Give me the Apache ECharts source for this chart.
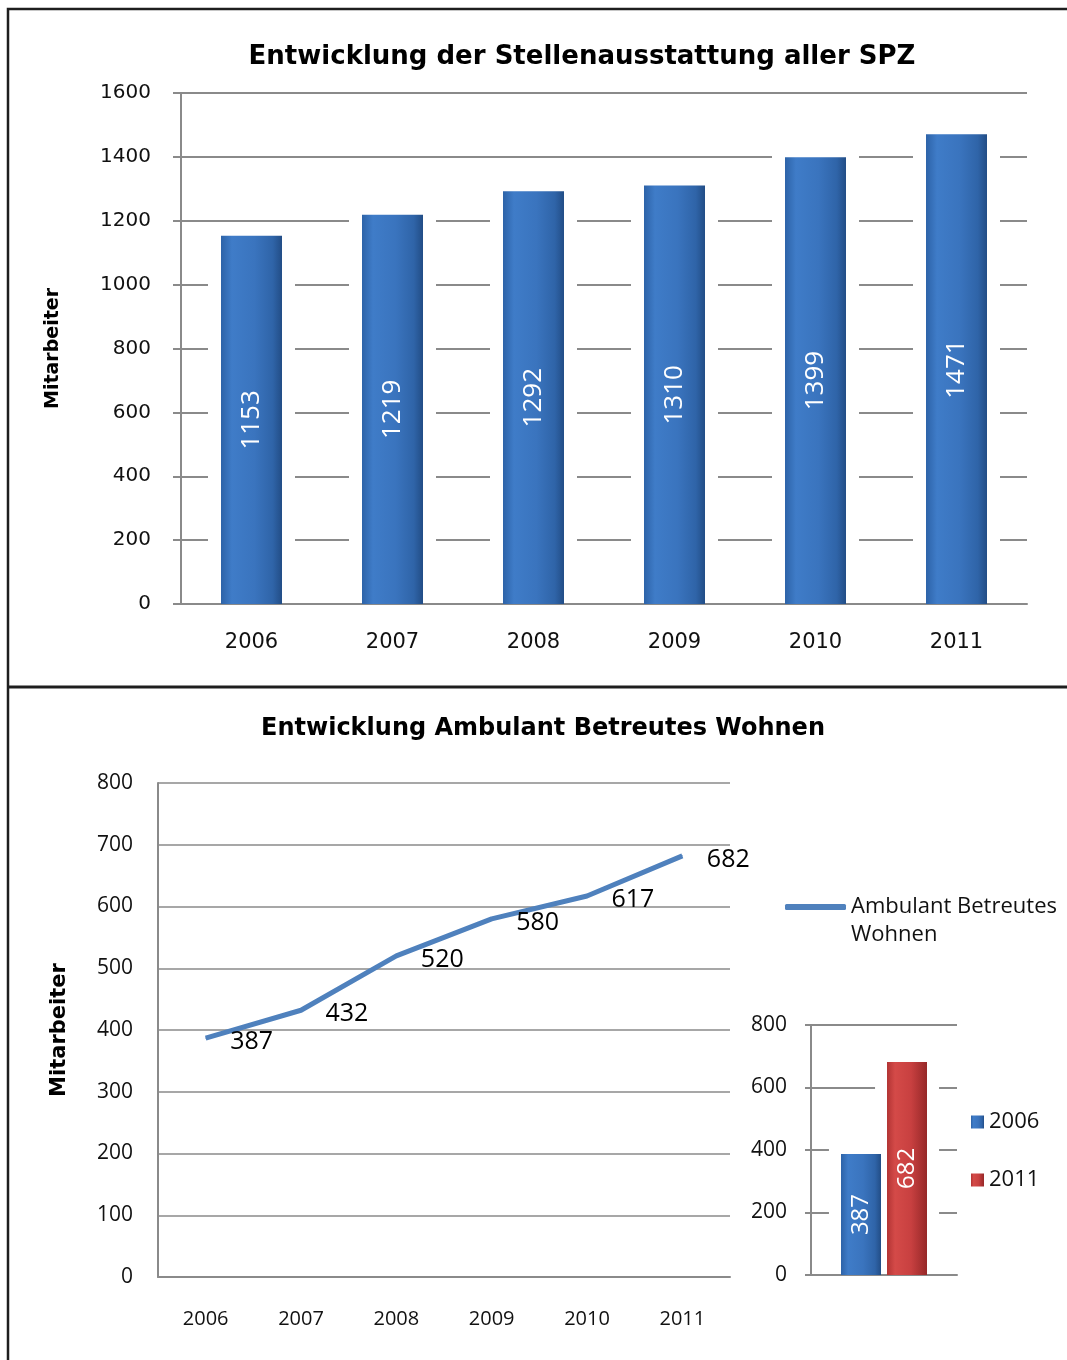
<!DOCTYPE html>
<html>
<head>
<meta charset="utf-8">
<script src="https://cdn.jsdelivr.net/npm/echarts@6/dist/echarts.min.js"></script>
<style>
  html, body { margin: 0; padding: 0; background: #fff; }
  #chart { width: 1067px; height: 1360px; }
</style>
</head>
<body>
<div id="chart"></div>
<script>
// Stellenausstattung aller SPZ
const staffYears = ['2006', '2007', '2008', '2009', '2010', '2011']
const staffValues = [1153, 1219, 1292, 1310, 1399, 1471]
// Ambulant Betreutes Wohnen
const abwYears = ['2006', '2007', '2008', '2009', '2010', '2011']
const abwValues = [387, 432, 520, 580, 617, 682]
// Vergleich 2006 / 2011
const compareYears = ['2006', '2011']
const compareValues = [387, 682]

const gridGray = '#8a8a8a'
const serif = 'DejaVu Sans'
const sans = 'Open Sans'

function blueFill () {
  return new echarts.graphic.LinearGradient(0, 0, 1, 0, [
    { offset: 0, color: '#2d63a8' },
    { offset: 0.18, color: '#3f7cc8' },
    { offset: 0.55, color: '#3a74be' },
    { offset: 0.85, color: '#2f64a8' },
    { offset: 1, color: '#224d86' }
  ])
}
function redFill () {
  return new echarts.graphic.LinearGradient(0, 0, 1, 0, [
    { offset: 0, color: '#b23434' },
    { offset: 0.2, color: '#d44a48' },
    { offset: 0.6, color: '#c84040' },
    { offset: 1, color: '#962828' }
  ])
}
// weisse Flaeche hinter den Balken, unterbricht die Gitterlinien
const gapStyle = { color: '#fff' }
const plain = (v) => String(v)

let myChart = echarts.init(document.getElementById('chart'), null, { renderer: 'canvas' })

let options = {
  animation: false,
  backgroundColor: '#fff',
  title: [
    {
      text: 'Entwicklung der Stellenausstattung aller SPZ',
      left: 582,
      textAlign: 'center',
      top: 44,
      padding: 0,
      textStyle: { fontFamily: serif, fontWeight: 'bold', fontSize: 26, color: '#000' }
    },
    {
      text: 'Entwicklung Ambulant Betreutes Wohnen',
      left: 543,
      textAlign: 'center',
      top: 717,
      padding: 0,
      textStyle: { fontFamily: serif, fontWeight: 'bold', fontSize: 24, color: '#000' }
    }
  ],
  legend: [
    {
      data: ['Ambulant Betreutes Wohnen'],
      left: 785,
      top: 865,
      padding: 0,
      icon: 'roundRect',
      itemWidth: 61,
      itemHeight: 6,
      formatter: '\nAmbulant Betreutes\nWohnen',
      textStyle: { fontFamily: sans, fontSize: 22, lineHeight: 28, color: '#111' }
    },
    {
      data: compareYears,
      left: 971,
      top: 1110,
      orient: 'vertical',
      padding: 0,
      icon: 'rect',
      itemWidth: 13,
      itemHeight: 13,
      itemGap: 34,
      textStyle: { fontFamily: sans, fontSize: 22, lineHeight: 24, color: '#111' }
    }
  ],
  grid: [
    { left: 181, top: 93, width: 846, height: 511 },
    { left: 158, top: 783, width: 572, height: 494 },
    { left: 811, top: 1025, width: 146, height: 250 }
  ],
  xAxis: [
    {
      type: 'category', gridIndex: 0, data: staffYears, z: 2,
      axisLine: { lineStyle: { color: gridGray, width: 2 } },
      axisTick: { show: false },
      axisLabel: { fontFamily: serif, fontSize: 21, color: '#111', margin: 28 }
    },
    { type: 'category', gridIndex: 0, data: staffYears, show: false },
    {
      type: 'category', gridIndex: 1, data: abwYears, z: 2,
      axisLine: { lineStyle: { color: gridGray, width: 2 } },
      axisTick: { show: false },
      axisLabel: { fontFamily: sans, fontSize: 20, color: '#111', margin: 32 }
    },
    {
      type: 'category', gridIndex: 2, data: [''], z: 2,
      axisLine: { lineStyle: { color: gridGray, width: 2 } },
      axisTick: { show: false },
      axisLabel: { show: false }
    },
    { type: 'category', gridIndex: 2, data: [''], show: false }
  ],
  yAxis: [
    {
      type: 'value', gridIndex: 0, min: 0, max: 1600, interval: 200,
      name: 'Mitarbeiter', nameLocation: 'middle', nameGap: 118,
      nameTextStyle: { fontFamily: serif, fontWeight: 'bold', fontSize: 19, color: '#000' },
      axisLine: { show: true, lineStyle: { color: gridGray, width: 2 } },
      axisTick: { show: true, length: 8, lineStyle: { color: gridGray, width: 2 } },
      axisLabel: { fontFamily: serif, fontSize: 20, color: '#111', margin: 30, formatter: plain },
      splitLine: { lineStyle: { color: gridGray, width: 2 } }
    },
    {
      type: 'value', gridIndex: 1, min: 0, max: 800, interval: 100,
      name: 'Mitarbeiter', nameLocation: 'middle', nameGap: 88,
      nameTextStyle: { fontFamily: serif, fontWeight: 'bold', fontSize: 21, color: '#000' },
      axisLine: { show: true, lineStyle: { color: gridGray, width: 2 } },
      axisTick: { show: false },
      axisLabel: { fontFamily: sans, fontSize: 21, color: '#111', margin: 25, formatter: plain },
      splitLine: { lineStyle: { color: gridGray, width: 1.5 } }
    },
    {
      type: 'value', gridIndex: 2, min: 0, max: 800, interval: 200,
      axisLine: { show: true, lineStyle: { color: gridGray, width: 2 } },
      axisTick: { show: true, length: 6, lineStyle: { color: gridGray, width: 2 } },
      axisLabel: { fontFamily: sans, fontSize: 21, color: '#111', margin: 24, formatter: plain },
      splitLine: { lineStyle: { color: gridGray, width: 2 } }
    },
    // versteckte Achsen: etwas gestauchte Skala, damit die weisse Flaeche ueber den Balken hinausragt
    { type: 'value', gridIndex: 0, min: 0, max: 1560, show: false, splitLine: { show: false } },
    { type: 'value', gridIndex: 2, min: 0, max: 760, show: false, splitLine: { show: false } }
  ],
  series: [
    {
      type: 'bar', xAxisIndex: 1, yAxisIndex: 3, data: staffValues,
      barWidth: 87, z: 1, silent: true, itemStyle: gapStyle
    },
    {
      type: 'bar', name: 'Stellen', xAxisIndex: 0, yAxisIndex: 0, data: staffValues,
      barWidth: 61, z: 3,
      itemStyle: { color: blueFill() },
      label: {
        show: true, position: 'inside', rotate: 90,
        fontFamily: sans, fontSize: 26, color: '#fff'
      }
    },
    {
      type: 'line', name: 'Ambulant Betreutes Wohnen', xAxisIndex: 2, yAxisIndex: 1,
      data: abwValues, symbol: 'circle', symbolSize: 1, showSymbol: true, color: '#4f81bd',
      itemStyle: { color: '#4f81bd' },
      lineStyle: { width: 5, color: '#4f81bd' },
      label: {
        show: true, position: 'right', distance: 24, offset: [0, 4],
        fontFamily: sans, fontSize: 25, color: '#000'
      }
    },
    {
      type: 'bar', xAxisIndex: 4, yAxisIndex: 4, data: [compareValues[0]],
      barWidth: 64, barGap: '-28%', z: 1, silent: true, itemStyle: gapStyle
    },
    {
      type: 'bar', xAxisIndex: 4, yAxisIndex: 4, data: [compareValues[1]],
      barWidth: 64, barGap: '-28%', z: 1, silent: true, itemStyle: gapStyle
    },
    {
      type: 'bar', name: compareYears[0], xAxisIndex: 3, yAxisIndex: 2, data: [compareValues[0]],
      barWidth: 40, barGap: '15%', z: 3,
      itemStyle: { color: blueFill() },
      label: { show: true, position: 'inside', rotate: 90, fontFamily: sans, fontSize: 24, color: '#fff' }
    },
    {
      type: 'bar', name: compareYears[1], xAxisIndex: 3, yAxisIndex: 2, data: [compareValues[1]],
      barWidth: 40, barGap: '15%', z: 3,
      itemStyle: { color: redFill() },
      label: { show: true, position: 'inside', rotate: 90, fontFamily: sans, fontSize: 24, color: '#fff' }
    }
  ],
  graphic: [
    { // Rahmen
      type: 'polyline', z: 10, silent: true,
      shape: { points: [[8, 1360], [8, 9], [1067, 9]] },
      style: { stroke: '#1e1e1e', lineWidth: 2.5, fill: null }
    },
    {
      type: 'line', z: 10, silent: true,
      shape: { x1: 8, y1: 687, x2: 1067, y2: 687 },
      style: { stroke: '#1e1e1e', lineWidth: 3 }
    }
  ]
}
myChart.setOption(options)
</script>
</body>
</html>
